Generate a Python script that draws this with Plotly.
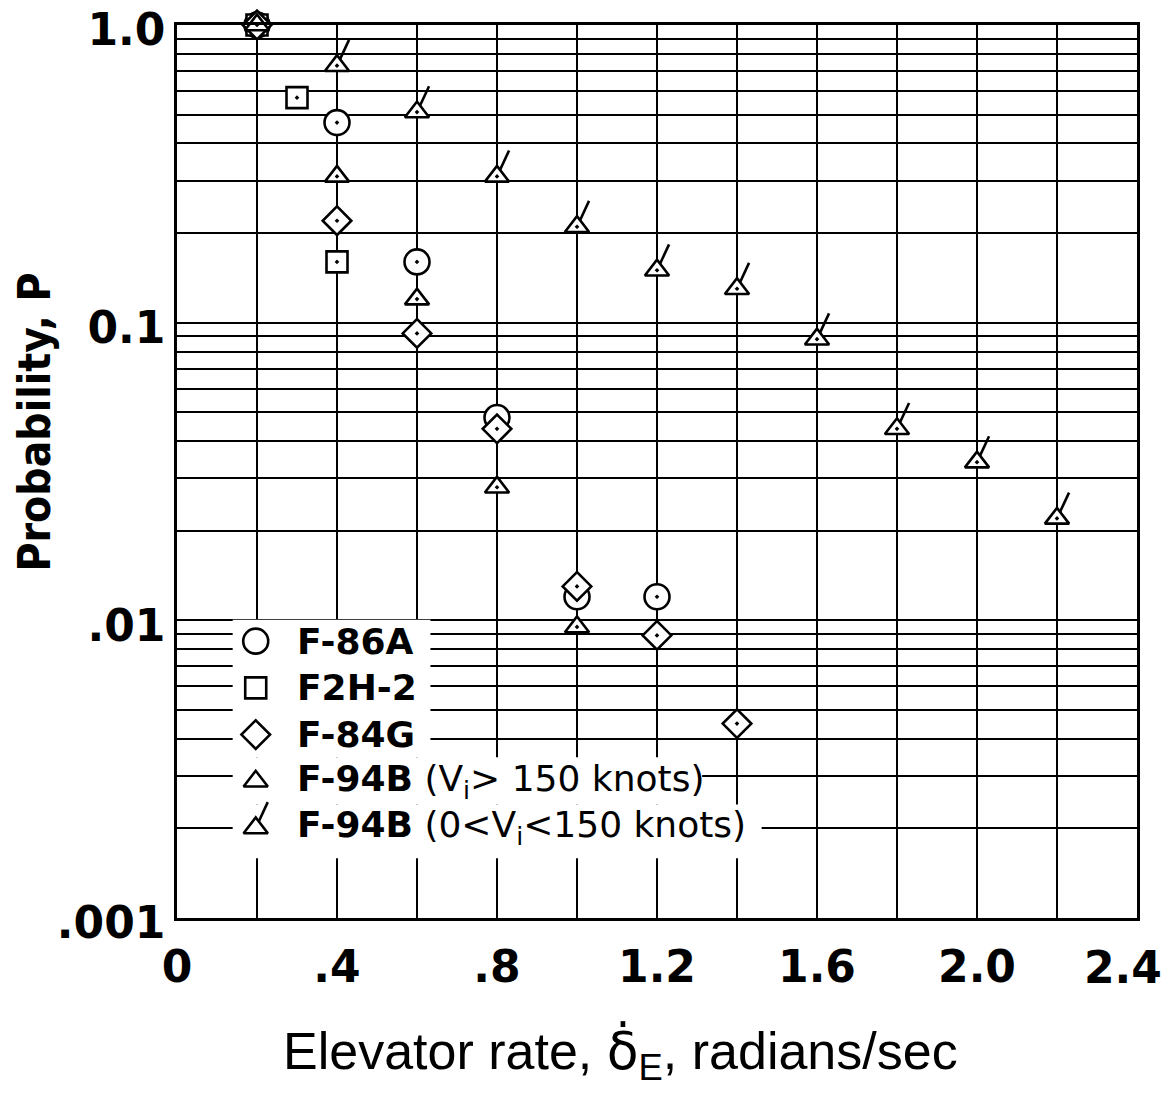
import plotly.graph_objects as go

# Elevator rate (radians/sec) and probability P for each airplane
f86a_rate = [0.2, 0.4, 0.6, 0.8, 1.0, 1.2]
f86a_prob = [1.0, 0.47, 0.16, 0.048, 0.012, 0.012]

f2h2_rate = [0.2, 0.3, 0.4]
f2h2_prob = [1.0, 0.57, 0.16]

f84g_rate = [0.2, 0.4, 0.6, 0.8, 1.0, 1.2, 1.4]
f84g_prob = [1.0, 0.22, 0.092, 0.044, 0.013, 0.0089, 0.0045]

f94b_fast_rate = [0.2, 0.4, 0.6, 0.8, 1.0]
f94b_fast_prob = [1.0, 0.31, 0.12, 0.028, 0.0095]

f94b_slow_rate = [0.4, 0.6, 0.8, 1.0, 1.2, 1.4, 1.6, 1.8, 2.0, 2.2]
f94b_slow_prob = [0.73, 0.51, 0.31, 0.21, 0.15, 0.13, 0.088, 0.044, 0.034, 0.022]

# Axis ticks (labelled) and extra grid positions (unlabelled)
x_tickvals = [0.0, 0.4, 0.8, 1.2, 1.6, 2.0, 2.4]
x_ticktext = ["0", ".4", ".8", "1.2", "1.6", "2.0", "2.4"]
x_gridvals = [0.2, 0.6, 1.0, 1.4, 1.8, 2.2]
y_tickvals = [0.001, 0.01, 0.1, 1.0]
y_ticktext = [".001", ".01", "0.1", "1.0"]
y_grid_mantissas = [2, 3, 4, 5, 6, 7, 8, 9]

# Legend entries
legend_labels = [
    "<b>F-86A</b>",
    "<b>F2H-2</b>",
    "<b>F-84G</b>",
    "<b>F-94B</b> (V<sub>i</sub>&gt; 150 knots)",
    "<b>F-94B</b> (0&lt;V<sub>i</sub>&lt;150 knots)",
]
legend_symbols = ["circle", "square", "diamond", "triangle-up", "triangle-up"]
legend_sizes = [25, 21, 22, 21, 21]
legend_flagged = [False, False, False, False, True]

y_gridvals = [d * m for d in y_tickvals[:-1] for m in y_grid_mantissas]

INK = "black"
TICK_FONT = dict(family="DejaVu Sans, Liberation Sans, sans-serif", size=44,
                 color=INK, weight="bold")
LEGEND_FONT = "DejaVu Sans, Liberation Sans, sans-serif"
LW = 2.6


def marker(symbol, size):
    return dict(symbol=symbol, size=size, color="white",
                line=dict(color=INK, width=LW))


# short slanted flag above a triangle (line rotated 205 deg and pushed out)
FLAG = dict(symbol="line-ns", size=15, angle=205, standoff=18,
            line=dict(color=INK, width=LW))

fig = go.Figure()

fig.add_trace(go.Scatter(x=f86a_rate, y=f86a_prob, mode="markers", name="F-86A",
                         marker=marker("circle-dot", 25), cliponaxis=False))
fig.add_trace(go.Scatter(x=f2h2_rate, y=f2h2_prob, mode="markers", name="F2H-2",
                         marker=marker("square-dot", 21), cliponaxis=False))
fig.add_trace(go.Scatter(x=f84g_rate, y=f84g_prob, mode="markers", name="F-84G",
                         marker=marker("diamond-dot", 22), cliponaxis=False))
fig.add_trace(go.Scatter(x=f94b_fast_rate, y=f94b_fast_prob, mode="markers",
                         name="F-94B (Vi > 150 knots)",
                         marker=marker("triangle-up-dot", 21), cliponaxis=False))
fig.add_trace(go.Scatter(x=f94b_slow_rate, y=f94b_slow_prob, mode="markers",
                         name="F-94B (0 < Vi < 150 knots)",
                         marker=marker("triangle-up-dot", 21), cliponaxis=False))
fig.add_trace(go.Scatter(x=f94b_slow_rate, y=f94b_slow_prob, mode="markers",
                         showlegend=False, hoverinfo="skip", cliponaxis=False,
                         marker=FLAG))

# Legend, drawn inside the plot on a unit overlay
leg_x = 0.082
leg_top = 0.310
leg_step = 0.0523
leg_y = [leg_top - i * leg_step for i in range(len(legend_labels))]

# white patches under the legend so the grid does not run through it
legend_patches = [
    (0.058, 0.264, 0.180, 0.334),
    (0.058, 0.547, 0.127, 0.180),
    (0.058, 0.609, 0.067, 0.127),
]
for x0, x1, y0, y1 in legend_patches:
    fig.add_trace(go.Scatter(x=[x0, x1, x1, x0, x0], y=[y0, y0, y1, y1, y0],
                             xaxis="x2", yaxis="y2", mode="lines", fill="toself",
                             fillcolor="white", line=dict(width=0, color="white"),
                             showlegend=False, hoverinfo="skip"))

for sym, size, flagged, yy in zip(legend_symbols, legend_sizes, legend_flagged, leg_y):
    fig.add_trace(go.Scatter(x=[leg_x], y=[yy], xaxis="x2", yaxis="y2",
                             mode="markers", showlegend=False, hoverinfo="skip",
                             cliponaxis=False, marker=marker(sym, size)))
    if flagged:
        fig.add_trace(go.Scatter(x=[leg_x], y=[yy], xaxis="x2", yaxis="y2",
                                 mode="markers", showlegend=False, hoverinfo="skip",
                                 cliponaxis=False, marker=FLAG))

for lab, yy in zip(legend_labels, leg_y):
    fig.add_annotation(text=lab, xref="x domain", yref="y domain",
                       x=0.123, y=yy, xanchor="left", yanchor="middle",
                       showarrow=False,
                       font=dict(family=LEGEND_FONT, size=36, color=INK))

# the last x label sits tucked in against the right edge of the page
fig.add_annotation(text=x_ticktext[-1], x=x_tickvals[-1], xref="x",
                   y=0, yref="paper", yanchor="top", yshift=-22, xshift=-14,
                   showarrow=False, font=TICK_FONT)

# axis titles
fig.add_annotation(text="<b>Probability, P</b>", xref="paper", yref="paper",
                   x=-0.148, y=0.556, textangle=-90, showarrow=False,
                   xanchor="center", yanchor="middle",
                   font=dict(family="DejaVu Sans Condensed, DejaVu Sans, sans-serif",
                             size=44, color=INK))
fig.add_annotation(text="Elevator rate, <span style=\"font-family:DejaVu Sans\">"
                        "\u03b4\u0307</span><sub>E</sub>, radians/sec",
                   xref="paper", yref="paper", x=0.462, y=-0.113,
                   xanchor="center", yanchor="top", showarrow=False,
                   font=dict(family="Liberation Sans, Arial, sans-serif", size=52,
                             color=INK))

axis_common = dict(showgrid=True, gridcolor=INK, gridwidth=2,
                   showline=True, linecolor=INK, linewidth=LW, mirror=True,
                   ticks="", zeroline=False, automargin=False,
                   tickfont=TICK_FONT)

fig.update_layout(
    width=1166, height=1104,
    margin=dict(l=177, r=29, t=25, b=186),
    paper_bgcolor="white", plot_bgcolor="white",
    showlegend=False,
    xaxis=dict(range=[0, 2.4], tickvals=x_tickvals[:-1], ticktext=x_ticktext[:-1],
               ticklabelstandoff=8,
               minor=dict(tickvals=x_gridvals + x_tickvals[-1:], showgrid=True,
                          gridcolor=INK, gridwidth=2, ticks=""),
               **axis_common),
    yaxis=dict(type="log", range=[-3, 0], tickvals=y_tickvals, ticktext=y_ticktext,
               ticklabelshift=5, ticklabeloverflow="allow",
               minor=dict(tickvals=y_gridvals, showgrid=True, gridcolor=INK,
                          gridwidth=2, ticks=""),
               **axis_common),
    xaxis2=dict(overlaying="x", range=[0, 1], visible=False),
    yaxis2=dict(overlaying="y", range=[0, 1], visible=False),
)

fig.write_html("out.html")
